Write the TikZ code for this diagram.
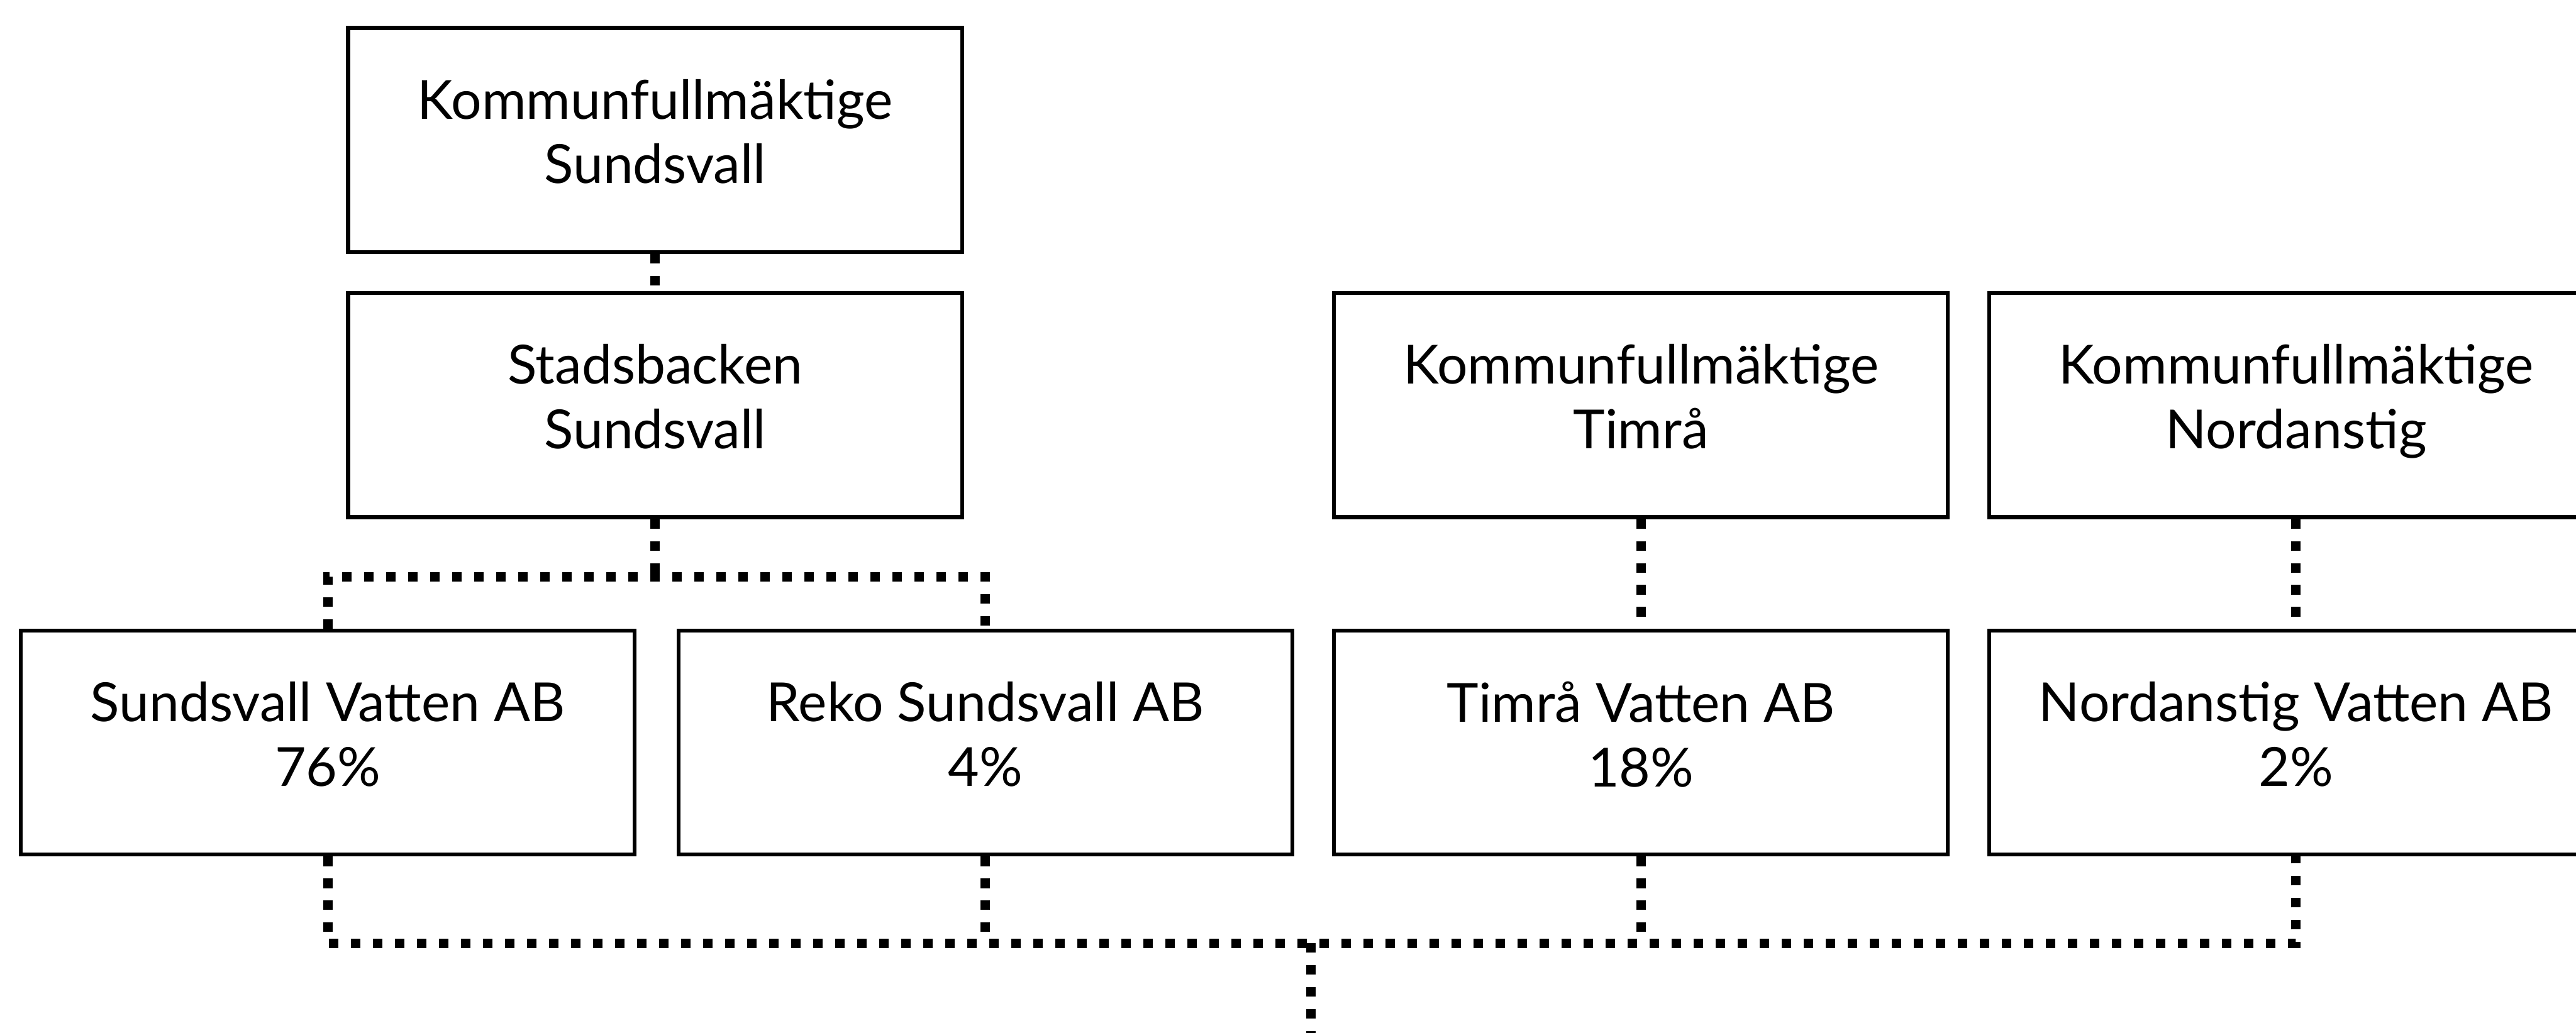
\documentclass[tikz,border=0pt]{standalone}
\usepackage{fontspec}
\setmainfont{Lato}
\usepackage{tikz}
\usetikzlibrary{positioning}

\begin{document}
\begin{tikzpicture}[
    orgbox/.style={draw, line width=1.8pt, minimum width=10cm, minimum height=3.65cm,
        inner sep=0pt, align=center, font=\fontsize{25}{30}\selectfont,
        execute at end node={\rule[-0.28cm]{0pt}{0pt}}},
    link/.style={line width=4.4pt, dash pattern=on 4.4pt off 5.8pt}
]
    \useasboundingbox (0,0) rectangle (41.96,-16.83);

    % Owners
    \node[orgbox] (ksund) at (10.67, -2.28) {Kommunfullmäktige\\Sundsvall};
    \node[orgbox] (stad) at (10.67, -6.60) {Stadsbacken\\Sundsvall};
    \node[orgbox] (ktimra) at (26.73, -6.60) {Kommunfullmäktige\\Timrå};
    \node[orgbox] (knord) at (37.40, -6.60) {Kommunfullmäktige\\Nordanstig};

    % Companies and shares
    \node[orgbox] (sundvatten) at (5.34, -12.10) {Sundsvall Vatten AB\\76\%};
    \node[orgbox] (reko) at (16.05, -12.10) {Reko Sundsvall AB\\4\%};
    \node[orgbox] (timravatten) at (26.73, -12.10) {Timrå Vatten AB\\18\%};
    \node[orgbox] (nordvatten) at (37.40, -12.10) {Nordanstig Vatten AB\\2\%};

    % Bus points
    \coordinate (topbus) at (10.67, -9.40);
    \coordinate (lowbus) at (21.35, -15.37);
    \coordinate (exit) at (21.35, -17.20);

    % Dotted links
    \draw[link] (ksund) -- (stad);
    \draw[link] (stad) -- (topbus);
    \draw[link] (sundvatten.north) |- (topbus) -| (reko.north);
    \draw[link] (ktimra) -- (timravatten);
    \draw[link] (knord) -- (nordvatten);
    \draw[link] (sundvatten.south) |- (lowbus) -| (nordvatten.south);
    \draw[link] (reko.south) -- (reko.south |- lowbus);
    \draw[link] (timravatten.south) -- (timravatten.south |- lowbus);
    \draw[link] (lowbus) -- (exit);
\end{tikzpicture}
\end{document}
